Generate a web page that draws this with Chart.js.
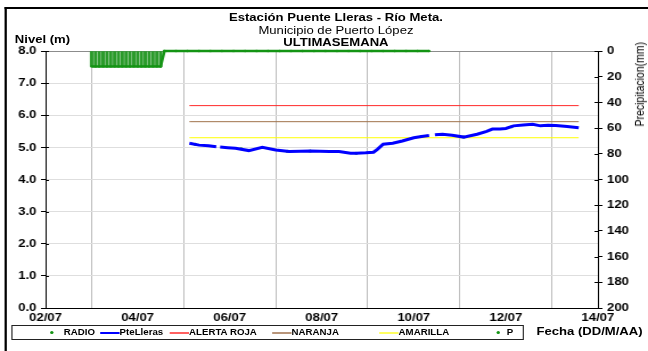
<!DOCTYPE html>
<html>
<head>
<meta charset="utf-8">
<script src="https://cdn.jsdelivr.net/npm/chart.js@4.4.1/dist/chart.umd.min.js"></script>
<style>
  html, body { margin: 0; padding: 0; background: #fff; overflow: hidden; }
  /* el grafico se compone a 569px de ancho y se estira a 648px */
  #wrap { position: relative; width: 569px; height: 351px; overflow: hidden; transform: scaleX(1.13884); transform-origin: 0 0;
    font-family: "Liberation Sans", Arial, sans-serif; color: #000; }
  #grafico { position: absolute; left: 0; top: 0; }
  .txt { position: absolute; white-space: nowrap; line-height: 1; }
  .b { font-weight: bold; }
  #marco { position: absolute; left: 4px; top: 7px; width: 700px; height: 400px; border-left: 2px solid #000; border-top: 2px solid #000; }
  #leyenda { position: absolute; left: 10px; top: 325px; width: 448px; height: 13px; border: 1px solid #222; font-size: 8.5px; font-weight: bold; }
  #leyenda .it { position: absolute; top: 0; line-height: 13px; }
  #leyenda .ln { position: absolute; top: 5.5px; width: 17px; height: 2px; }
  #leyenda .pt { position: absolute; top: 5px; width: 3px; height: 3px; border-radius: 2px; background: #149414; }
</style>
</head>
<body>
<div id="wrap">
  <div id="marco"></div>
  <canvas id="grafico" width="569" height="351"></canvas>
  <div class="txt b" style="left:195px;width:200px;text-align:center;top:12px;font-size:11.5px;">Estación Puente Lleras - Río Meta.</div>
  <div class="txt" style="left:195px;width:200px;text-align:center;top:25px;font-size:11.5px;">Municipio de Puerto López</div>
  <div class="txt b" style="left:195px;width:200px;text-align:center;top:37px;font-size:11.5px;">ULTIMASEMANA</div>
  <div class="txt b" style="left:13px;top:34px;font-size:11.5px;">Nivel (m)</div>
  <div class="txt" style="left:512px;top:79px;width:100px;text-align:center;font-size:10.5px;transform:rotate(-90deg);">Precipitacion(mm)</div>
  <div class="txt b" style="left:471px;top:326px;font-size:11.5px;">Fecha (DD/M/AA)</div>
  <div id="leyenda"></div>
</div>
<script>
// eje x en horas desde el 02/07 00:00
const etiquetasFecha = ["02/07", "04/07", "06/07", "08/07", "10/07", "12/07", "14/07"];

// nivel Puente Lleras (m)
const nivelHoras = [75, 80, 85, 89, 90, 91, 95, 99, 106, 113, 120, 127, 133, 138, 143, 148, 153, 159, 162, 167, 171, 173, 176, 181, 186, 192, 196, 200, 201, 203, 207, 212, 218, 225, 230, 233, 237, 240, 244, 249, 254, 258, 262, 266, 272, 278];
const nivelPteLleras = [5.13, 5.07, 5.05, 5.02, null, 5.01, 4.99, 4.97, 4.90, 5.00, 4.92, 4.87, 4.88, 4.89, 4.88, 4.87, 4.87, 4.82, 4.82, 4.83, 4.85, 4.94, 5.10, 5.13, 5.20, 5.30, 5.34, 5.37, null, 5.39, 5.41, 5.38, 5.32, 5.41, 5.50, 5.57, 5.57, 5.59, 5.67, 5.70, 5.72, 5.67, 5.69, 5.68, 5.65, 5.61];

// lecturas por radio
const radioHoras = [78, 102, 126, 138, 150, 162, 196, 218, 243];
const radioNivel = [5.10, 4.96, 4.88, 4.89, 4.87, 4.82, 5.34, 5.32, 5.64];

// umbrales de alerta (m)
const alertaHoras = [75, 278];
const alertaRoja = [6.3, 6.3];
const alertaNaranja = [5.8, 5.8];
const alertaAmarilla = [5.3, 5.3];

// precipitacion (mm)
const lluviaHoras = [24, 26, 28, 30, 32, 34, 36, 38, 40, 42, 44, 46, 48, 50, 52, 54, 56, 58, 60,
  62, 68, 74, 80, 86, 92, 98, 104, 110, 116, 122, 128, 134, 140, 146, 152, 158, 164, 170, 176, 182, 188, 194, 200];
const lluviaMm = [12, 12, 12, 12, 12, 12, 12, 12, 12, 12, 12, 12, 12, 12, 12, 12, 12, 12, 12,
  0, 0, 0, 0, 0, 0, 0, 0, 0, 0, 0, 0, 0, 0, 0, 0, 0, 0, 0, 0, 0, 0, 0, 0];

const pares = (xs, ys) => xs.map((x, i) => ({ x, y: ys[i] }));

const VERDE = "#149414";
const fuenteEje = { family: "'Liberation Sans', Arial, sans-serif", size: 11.5, weight: "bold" };

// marcas cortas hacia dentro en los ejes verticales
const marcasInternas = {
  id: "marcasInternas",
  afterDraw(chart) {
    const { ctx, chartArea, scales } = chart;
    ctx.save();
    ctx.strokeStyle = "#000";
    ctx.lineWidth = 1;
    scales.y.ticks.forEach((t) => {
      const yy = Math.round(scales.y.getPixelForValue(t.value)) + 0.5;
      ctx.beginPath(); ctx.moveTo(chartArea.left, yy); ctx.lineTo(chartArea.left + 3, yy); ctx.stroke();
    });
    scales.y2.ticks.forEach((t) => {
      const yy = Math.round(scales.y2.getPixelForValue(t.value)) + 0.5;
      ctx.beginPath(); ctx.moveTo(chartArea.right - 3, yy); ctx.lineTo(chartArea.right, yy); ctx.stroke();
    });
    ctx.restore();
  }
};

const grafico = new Chart(document.getElementById("grafico"), {
  type: "line",
  data: {
    datasets: [
      { label: "RADIO", data: pares(radioHoras, radioNivel), yAxisID: "y", showLine: false,
        pointRadius: 1.5, pointBackgroundColor: VERDE, pointBorderWidth: 0, order: 2 },
      { label: "PteLleras", data: pares(nivelHoras, nivelPteLleras), yAxisID: "y", borderColor: "#0000ff",
        borderWidth: 3, pointRadius: 0, spanGaps: false, order: 1 },
      { label: "ALERTA ROJA", data: pares(alertaHoras, alertaRoja), yAxisID: "y", borderColor: "#ff2a2a",
        borderWidth: 1, pointRadius: 0, order: 5 },
      { label: "NARANJA", data: pares(alertaHoras, alertaNaranja), yAxisID: "y", borderColor: "#a0724a",
        borderWidth: 1, pointRadius: 0, order: 5 },
      { label: "AMARILLA", data: pares(alertaHoras, alertaAmarilla), yAxisID: "y", borderColor: "#ffff00",
        borderWidth: 1, pointRadius: 0, order: 5 },
      { label: "P", data: pares(lluviaHoras, lluviaMm), yAxisID: "y2", borderColor: VERDE,
        borderWidth: 2.5, pointRadius: 1.2, pointBackgroundColor: VERDE, pointBorderWidth: 0, clip: false, order: 3 },
      { type: "bar", label: "P barras", data: pares(lluviaHoras, lluviaMm), yAxisID: "y2",
        backgroundColor: "#2a9a2a", barThickness: 2.4, grouped: false, order: 4 }
    ]
  },
  options: {
    responsive: false,
    animation: false,
    devicePixelRatio: 1,
    layout: { padding: { left: 0, right: 0, top: 51, bottom: 0 } },
    plugins: { legend: { display: false }, tooltip: { enabled: false } },
    scales: {
      x: {
        type: "linear", min: 0, max: 288, offset: false,
        afterFit: (s) => { s.height = 43; },
        ticks: { stepSize: 48, padding: 3, font: fuenteEje, color: "#000",
          callback: (v, i) => etiquetasFecha[i] },
        grid: { color: "#bcbcbc", lineWidth: 1, tickLength: 0 },
        border: { color: "#000", width: 1 }
      },
      y: {
        position: "left", min: 0, max: 8,
        afterFit: (s) => { s.width = 40; },
        ticks: { stepSize: 1, padding: 4, font: fuenteEje, color: "#000",
          callback: (v) => v.toFixed(1) },
        grid: { color: (c) => (c.tick && c.tick.value === 8 ? "#8c8c8c" : "#dedede"),
          tickLength: 4, tickColor: "#000" },
        border: { color: "#000", width: 1 }
      },
      y2: {
        position: "right", min: 0, max: 200, reverse: true,
        afterFit: (s) => { s.width = 44; },
        ticks: { stepSize: 20, padding: 4, font: fuenteEje, color: "#000" },
        grid: { drawOnChartArea: false, tickLength: 4, color: "#000" },
        border: { color: "#000", width: 1 }
      }
    }
  },
  plugins: [marcasInternas]
});

// leyenda inferior
const itemsLeyenda = [
  { txt: "RADIO", tipo: "pt", color: VERDE, x: 33, tx: 45 },
  { txt: "PteLleras", tipo: "ln", color: "#0000ff", x: 77, tx: 94 },
  { txt: "ALERTA ROJA", tipo: "ln", color: "#ff6060", x: 138, tx: 155 },
  { txt: "NARANJA", tipo: "ln", color: "#b8957a", x: 228, tx: 245 },
  { txt: "AMARILLA", tipo: "ln", color: "#ffff60", x: 322, tx: 339 },
  { txt: "P", tipo: "pt", color: VERDE, x: 425, tx: 434 }
];
const leyenda = document.getElementById("leyenda");
itemsLeyenda.forEach((it) => {
  const m = document.createElement("div");
  m.className = it.tipo;
  m.style.left = it.x + "px";
  if (it.tipo === "ln") m.style.background = it.color;
  leyenda.appendChild(m);
  const t = document.createElement("div");
  t.className = "it";
  t.style.left = it.tx + "px";
  t.textContent = it.txt;
  leyenda.appendChild(t);
});
</script>
</body>
</html>
